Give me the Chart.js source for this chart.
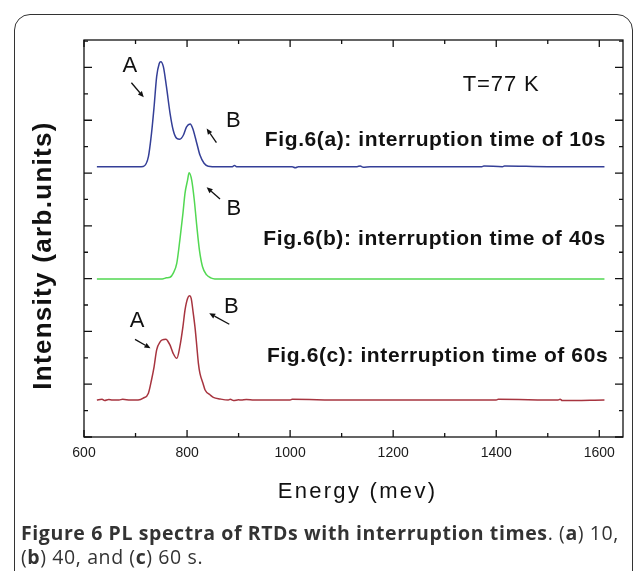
<!DOCTYPE html>
<html>
<head>
<meta charset="utf-8">
<script src="https://cdn.jsdelivr.net/npm/chart.js@4"></script>
<style>
html, body { margin: 0; padding: 0; background: #fff; }
#wrap { position: relative; width: 635px; height: 571px; overflow: hidden; background: #fff; }
#frame { position: absolute; left: 14px; top: 14px; width: 619px; height: 640px; border: 1.6px solid #333; border-radius: 16px; box-sizing: border-box; }
#chart { position: absolute; left: 0; top: 0; }
#caption { position: absolute; left: 21px; top: 521px; font-family: "Open Sans", sans-serif; font-size: 19.5px; letter-spacing: 0.6px; line-height: 24px; color: #333; white-space: nowrap; }
#caption b { font-weight: 700; }
</style>
</head>
<body>
<div id="wrap">
  <div id="frame"></div>
  <canvas id="chart" width="635" height="571"></canvas>
  <div id="caption"><b>Figure 6 PL spectra of RTDs with interruption times</b>. (<b>a</b>) 10,<br>(<b>b</b>) 40, and (<b>c</b>) 60 s.</div>
</div>
<script>
// ---- data (energy in meV, intensity in arbitrary offset units) ----
const energy10s = [625, 660, 690, 705, 715, 725, 731, 736, 741, 746, 749, 754, 760, 767, 773, 780, 786, 793, 799, 806, 811, 819, 825, 833, 841, 860, 888, 892, 896, 960, 1004, 1010, 1016, 1060, 1130, 1136, 1142, 1155, 1250, 1372, 1376, 1412, 1416, 1500, 1610];
const pl10s     = [10.24, 10.24, 10.24, 10.24, 10.25, 10.62, 11.50, 12.51, 13.65, 14.15, 14.22, 14.03, 13.27, 12.26, 11.63, 11.31, 11.28, 11.44, 11.75, 11.86, 11.69, 11.12, 10.68, 10.37, 10.26, 10.24, 10.24, 10.29, 10.24, 10.24, 10.24, 10.20, 10.24, 10.24, 10.24, 10.27, 10.22, 10.24, 10.24, 10.24, 10.27, 10.24, 10.27, 10.24, 10.24];

const energy40s = [625, 700, 745, 752, 760, 767, 773, 780, 786, 792, 796, 801, 804, 809, 814, 819, 824, 830, 838, 846, 854, 870, 1000, 1200, 1400, 1610];
const pl40s     = [5.99, 5.99, 5.99, 5.99, 6.03, 6.05, 6.20, 6.58, 7.46, 8.47, 9.23, 9.73, 10.01, 9.73, 8.98, 7.97, 7.08, 6.45, 6.14, 6.03, 5.99, 5.99, 5.99, 5.99, 5.99, 5.99];

const energy60s = [625, 635, 640, 648, 655, 668, 675, 690, 705, 715, 725, 731, 736, 741, 748, 752, 759, 763, 767, 773, 780, 786, 792, 796, 801, 805, 808, 812, 816, 819, 822, 825, 831, 835, 845, 851, 864, 880, 884, 890, 900, 905, 915, 930, 1000, 1004, 1100, 1140, 1400, 1404, 1520, 1524, 1528, 1610];
const pl60s     = [1.40, 1.43, 1.38, 1.42, 1.40, 1.40, 1.43, 1.40, 1.40, 1.47, 1.66, 2.16, 2.66, 3.30, 3.61, 3.68, 3.70, 3.62, 3.48, 3.17, 2.98, 3.42, 4.18, 4.81, 5.25, 5.35, 5.25, 4.69, 4.05, 3.42, 2.79, 2.41, 2.03, 1.78, 1.59, 1.50, 1.44, 1.40, 1.43, 1.38, 1.41, 1.40, 1.42, 1.40, 1.40, 1.43, 1.40, 1.40, 1.40, 1.43, 1.40, 1.43, 1.38, 1.40];

const seriesNames = ['10s', '40s', '60s'];
const xTickLabels = [600, 800, 1000, 1200, 1400, 1600];

// ---- annotations (placed in data coordinates) ----
const noteTexts = [
  { text: 'T=77 K', x: 1335, y: 13.11, align: 'left', size: 22, weight: 'normal', spacing: 0.9 },
  { text: 'Fig.6(a): interruption time of 10s', x: 951, y: 11.02, align: 'left', size: 21, weight: 'bold', spacing: 0.6 },
  { text: 'Fig.6(b): interruption time of 40s', x: 948, y: 7.27, align: 'left', size: 21, weight: 'bold', spacing: 0.6 },
  { text: 'Fig.6(c): interruption time of 60s', x: 955, y: 2.85, align: 'left', size: 21, weight: 'bold', spacing: 0.6 },
  { text: 'A', x: 689, y: 13.84, align: 'center', size: 22, weight: 'normal', spacing: 0 },
  { text: 'B', x: 890, y: 11.75, align: 'center', size: 22, weight: 'normal', spacing: 0 },
  { text: 'B', x: 891, y: 8.41, align: 'center', size: 22, weight: 'normal', spacing: 0 },
  { text: 'A', x: 703, y: 4.18, align: 'center', size: 22, weight: 'normal', spacing: 0 },
  { text: 'B', x: 886, y: 4.70, align: 'center', size: 22, weight: 'normal', spacing: 0 }
];
const noteArrows = [
  [692, 13.42, 716, 12.87],
  [857, 11.15, 838, 11.69],
  [864, 9.02, 838, 9.46],
  [699, 3.70, 729, 3.36],
  [882, 4.27, 843, 4.69]
];

const FONT = '"Liberation Sans", Arial, Helvetica, sans-serif';

function pts(xs, ys) { return xs.map((x, i) => ({ x: x, y: ys[i] })); }

const titleStyle = {
  x: { spacing: 2.3, dx: 4, dy: 0 },
  y: { spacing: 1.3, dx: 0, dy: 17 }
};

const titleStylePlugin = {
  id: 'titleStyle',
  beforeDraw(chart) {
    ['x', 'y'].forEach(id => {
      const s = chart.scales[id];
      if (s && !s.__styled) {
        const orig = s.drawTitle;
        s.drawTitle = function () {
          const c = this.ctx;
          c.save();
          c.letterSpacing = titleStyle[id].spacing + 'px';
          c.translate(titleStyle[id].dx, titleStyle[id].dy);
          orig.call(this);
          c.restore();
        };
        s.__styled = true;
      }
    });
  }
};

const frameTicksPlugin = {
  id: 'frameTicks',
  afterDatasetsDraw(chart) {
    const { ctx, chartArea: { left, right, top, bottom }, scales: { x, y } } = chart;
    ctx.save();
    ctx.strokeStyle = '#111';
    ctx.lineWidth = 1.3;
    ctx.strokeRect(left, top, right - left, bottom - top);
    ctx.beginPath();
    x.ticks.forEach(t => {
      const px = x.getPixelForValue(t.value);
      const len = (t.value % 200 === 0) ? 7 : 4;
      ctx.moveTo(px, bottom); ctx.lineTo(px, bottom - len);
      ctx.moveTo(px, top); ctx.lineTo(px, top + len);
    });
    y.ticks.forEach(t => {
      if (Math.abs(t.value - Math.round(t.value)) > 1e-6) return;
      const py = y.getPixelForValue(t.value);
      const len = (Math.round(t.value) % 2 === 0) ? 8 : 4;
      ctx.moveTo(left, py); ctx.lineTo(left + len, py);
      ctx.moveTo(right, py); ctx.lineTo(right - len, py);
    });
    ctx.stroke();
    ctx.restore();
  }
};

const notesPlugin = {
  id: 'notes',
  afterDatasetsDraw(chart) {
    const { ctx, scales: { x, y } } = chart;
    ctx.save();
    ctx.fillStyle = '#111';
    ctx.textBaseline = 'alphabetic';
    noteTexts.forEach(n => {
      ctx.font = n.weight + ' ' + n.size + 'px ' + FONT;
      ctx.letterSpacing = n.spacing + 'px';
      ctx.textAlign = n.align;
      ctx.fillText(n.text, x.getPixelForValue(n.x), y.getPixelForValue(n.y));
    });
    ctx.letterSpacing = '0px';
    ctx.strokeStyle = '#111';
    ctx.lineWidth = 1.3;
    noteArrows.forEach(a => {
      const x1 = x.getPixelForValue(a[0]), y1 = y.getPixelForValue(a[1]);
      const x2 = x.getPixelForValue(a[2]), y2 = y.getPixelForValue(a[3]);
      const ang = Math.atan2(y2 - y1, x2 - x1);
      const hl = 6, hw = 2.6;
      const bx = x2 - hl * Math.cos(ang), by = y2 - hl * Math.sin(ang);
      ctx.beginPath(); ctx.moveTo(x1, y1); ctx.lineTo(bx, by); ctx.stroke();
      ctx.beginPath();
      ctx.moveTo(x2, y2);
      ctx.lineTo(bx + hw * Math.sin(ang), by - hw * Math.cos(ang));
      ctx.lineTo(bx - hw * Math.sin(ang), by + hw * Math.cos(ang));
      ctx.closePath(); ctx.fill();
    });
    ctx.restore();
  }
};

const lineStyle = { borderWidth: 1.5, pointRadius: 0, fill: false, cubicInterpolationMode: 'monotone' };

new Chart(document.getElementById('chart'), {
  type: 'line',
  data: {
    datasets: [
      Object.assign({ label: seriesNames[0], data: pts(energy10s, pl10s), borderColor: '#343f97' }, lineStyle),
      Object.assign({ label: seriesNames[1], data: pts(energy40s, pl40s), borderColor: '#52d852' }, lineStyle),
      Object.assign({ label: seriesNames[2], data: pts(energy60s, pl60s), borderColor: '#a7343f' }, lineStyle)
    ]
  },
  options: {
    responsive: false,
    animation: false,
    devicePixelRatio: 1,
    layout: { padding: { left: 14, right: 12, top: 40, bottom: 56 } },
    plugins: { legend: { display: false }, tooltip: { enabled: false } },
    scales: {
      x: {
        type: 'linear', min: 600, max: 1646,
        grid: { display: false, drawTicks: false },
        border: { display: false },
        ticks: {
          stepSize: 100, includeBounds: false, autoSkip: false, maxRotation: 0, padding: 8,
          color: '#1a1a1a', font: { family: FONT, size: 14 },
          callback: v => (xTickLabels.includes(v) ? String(v) : '')
        },
        title: { display: true, text: 'Energy (mev)', color: '#111', font: { family: FONT, size: 22 }, padding: { top: 0, bottom: 10 } },
        afterFit: s => { s.height = 78; }
      },
      y: {
        type: 'linear', min: 0, max: 15.04,
        grid: { display: false, drawTicks: false },
        border: { display: false },
        ticks: { stepSize: 1, includeBounds: false, display: false },
        title: { display: true, text: 'Intensity (arb.units)', color: '#111', font: { family: FONT, size: 26, weight: 'bold' }, padding: { top: 14, bottom: 0 } },
        afterFit: s => { s.width = 70; }
      }
    }
  },
  plugins: [titleStylePlugin, frameTicksPlugin, notesPlugin]
});
</script>
</body>
</html>
